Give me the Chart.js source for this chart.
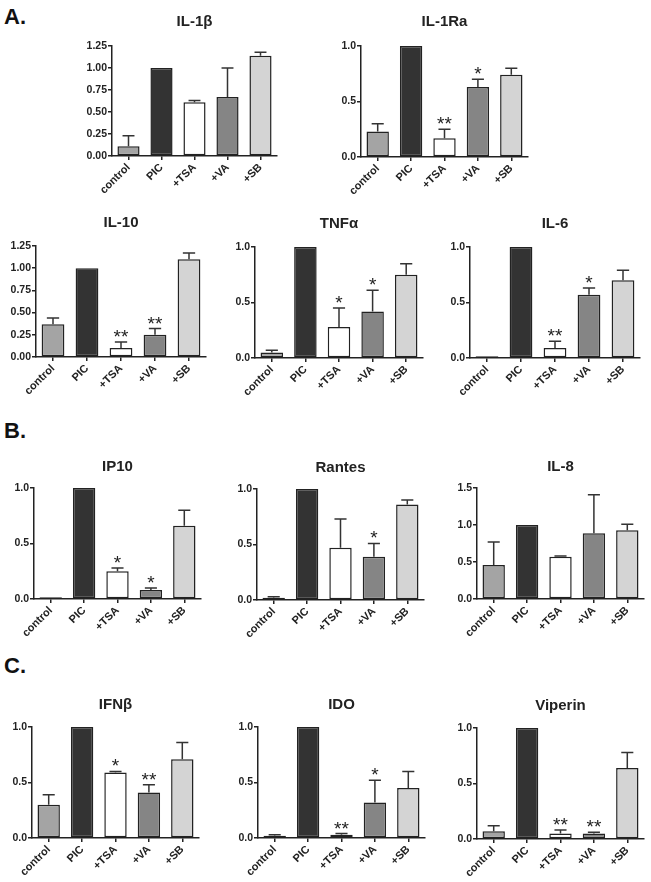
<!DOCTYPE html>
<html>
<head>
<meta charset="utf-8">
<script src="https://cdn.jsdelivr.net/npm/chart.js@4.4.0/dist/chart.umd.min.js"></script>
<style>
  body { margin: 0; background: #fff; width: 651px; height: 882px; position: relative; overflow: hidden; font-family: "Liberation Sans", Arial, sans-serif; }
  canvas { position: absolute; }
  .letter { position: absolute; font-weight: bold; font-size: 22px; color: #111; }
</style>
</head>
<body>
<div class="letter" style="left:4px;top:4px">A.</div>
<div class="letter" style="left:4px;top:418px">B.</div>
<div class="letter" style="left:4px;top:653px">C.</div>

<script>
// data (fold change vs PIC)
const categories = ["control", "PIC", "+TSA", "+VA", "+SB"];

const il1bMean = [0.11, 1.0, 0.61, 0.67, 1.14];
const il1bSem = [0.12, 0, 0.02, 0.33, 0.04];
const il1bStars = ["", "", "", "", ""];

const il1raMean = [0.23, 1.0, 0.17, 0.63, 0.74];
const il1raSem = [0.07, 0, 0.08, 0.07, 0.06];
const il1raStars = ["", "", "**", "*", ""];

const il10Mean = [0.37, 1.0, 0.10, 0.25, 1.10];
const il10Sem = [0.07, 0, 0.07, 0.07, 0.07];
const il10Stars = ["", "", "**", "**", ""];

const tnfMean = [0.05, 1.0, 0.28, 0.42, 0.75];
const tnfSem = [0.02, 0, 0.17, 0.19, 0.10];
const tnfStars = ["", "", "*", "*", ""];

const il6Mean = [0.015, 1.0, 0.09, 0.57, 0.70];
const il6Sem = [0, 0, 0.06, 0.06, 0.09];
const il6Stars = ["", "", "**", "*", ""];

const ip10Mean = [0.015, 1.0, 0.25, 0.08, 0.66];
const ip10Sem = [0, 0, 0.03, 0.02, 0.14];
const ip10Stars = ["", "", "*", "*", ""];

const rantesMean = [0.02, 1.0, 0.47, 0.39, 0.86];
const rantesSem = [0.01, 0, 0.26, 0.12, 0.04];
const rantesStars = ["", "", "", "*", ""];

const il8Mean = [0.46, 1.0, 0.57, 0.89, 0.93];
const il8Sem = [0.31, 0, 0.01, 0.52, 0.08];
const il8Stars = ["", "", "", "", ""];

const ifnbMean = [0.30, 1.0, 0.59, 0.41, 0.71];
const ifnbSem = [0.09, 0, 0.01, 0.07, 0.15];
const ifnbStars = ["", "", "*", "**", ""];

const idoMean = [0.02, 1.0, 0.03, 0.32, 0.45];
const idoSem = [0.01, 0, 0.01, 0.20, 0.15];
const idoStars = ["", "", "**", "*", ""];

const viperinMean = [0.07, 1.0, 0.05, 0.05, 0.64];
const viperinSem = [0.05, 0, 0.03, 0.01, 0.14];
const viperinStars = ["", "", "**", "**", ""];

// styling
const barColors = ["#a4a4a4", "#333333", "#ffffff", "#858585", "#d4d4d4"];
const ink = "#222";
const FONT = "'Liberation Sans', Arial, sans-serif";
const Y_AXIS_W = 32;
const X_AXIS_H = 50;
const PAD_TOP = 40;
const PAD_RIGHT = 6;

// layout: axisX = position of y axis, top = y of max tick, w/h = plot area, tOff = title offset above plot
const panels = [
  { title: "IL-1β", mean: il1bMean, sem: il1bSem, stars: il1bStars, max: 1.25, step: 0.25, dec: 2, axisX: 112, top: 46, w: 165, h: 110, tOff: 24 },
  { title: "IL-1Ra", mean: il1raMean, sem: il1raSem, stars: il1raStars, max: 1.0, step: 0.5, dec: 1, axisX: 361, top: 46, w: 167, h: 111, tOff: 24 },
  { title: "IL-10", mean: il10Mean, sem: il10Sem, stars: il10Stars, max: 1.25, step: 0.25, dec: 2, axisX: 36, top: 246, w: 170, h: 111, tOff: 23 },
  { title: "TNFα", mean: tnfMean, sem: tnfSem, stars: tnfStars, max: 1.0, step: 0.5, dec: 1, axisX: 255, top: 247, w: 168, h: 111, tOff: 23 },
  { title: "IL-6", mean: il6Mean, sem: il6Sem, stars: il6Stars, max: 1.0, step: 0.5, dec: 1, axisX: 470, top: 247, w: 170, h: 111, tOff: 23 },
  { title: "IP10", mean: ip10Mean, sem: ip10Sem, stars: ip10Stars, max: 1.0, step: 0.5, dec: 1, axisX: 34, top: 488, w: 167, h: 111, tOff: 21 },
  { title: "Rantes", mean: rantesMean, sem: rantesSem, stars: rantesStars, max: 1.0, step: 0.5, dec: 1, axisX: 257, top: 489, w: 167, h: 111, tOff: 21 },
  { title: "IL-8", mean: il8Mean, sem: il8Sem, stars: il8Stars, max: 1.5, step: 0.5, dec: 1, axisX: 477, top: 488, w: 167, h: 111, tOff: 21 },
  { title: "IFNβ", mean: ifnbMean, sem: ifnbSem, stars: ifnbStars, max: 1.0, step: 0.5, dec: 1, axisX: 32, top: 727, w: 167, h: 111, tOff: 22 },
  { title: "IDO", mean: idoMean, sem: idoSem, stars: idoStars, max: 1.0, step: 0.5, dec: 1, axisX: 258, top: 727, w: 167, h: 111, tOff: 22 },
  { title: "Viperin", mean: viperinMean, sem: viperinSem, stars: viperinStars, max: 1.0, step: 0.5, dec: 1, axisX: 477, top: 728, w: 167, h: 111, tOff: 22 },
];

// error bars (upper only), significance stars and panel title
const errorBarPlugin = {
  id: "errorBars",
  afterDatasetsDraw(chart, args, opts) {
    const ctx = chart.ctx;
    const area = chart.chartArea;
    const yScale = chart.scales.y;
    const ds = chart.data.datasets[0];
    const meta = chart.getDatasetMeta(0);
    ctx.save();
    ctx.strokeStyle = "#333";
    ctx.lineWidth = 1.5;
    ctx.fillStyle = ink;
    meta.data.forEach((bar, i) => {
      const topVal = ds.data[i] + ds.sem[i];
      const yTop = yScale.getPixelForValue(topVal);
      if (ds.sem[i] > 0) {
        const half = bar.width * 0.27;
        ctx.beginPath();
        ctx.moveTo(bar.x, bar.y);
        ctx.lineTo(bar.x, yTop);
        ctx.moveTo(bar.x - half, yTop);
        ctx.lineTo(bar.x + half, yTop);
        ctx.stroke();
      }
      if (ds.stars[i]) {
        ctx.font = "19px " + FONT;
        ctx.textAlign = "center";
        ctx.textBaseline = "alphabetic";
        ctx.fillText(ds.stars[i], bar.x, yTop + 1);
      }
    });
    ctx.font = "bold 15px " + FONT;
    ctx.textAlign = "center";
    ctx.textBaseline = "middle";
    ctx.fillText(opts.title, (area.left + area.right) / 2, area.top - opts.tOff);
    ctx.restore();
  }
};

function makePanel(p) {
  const canvas = document.createElement("canvas");
  const cw = Y_AXIS_W + p.w + PAD_RIGHT;
  const ch = PAD_TOP + p.h + X_AXIS_H;
  canvas.width = cw;
  canvas.height = ch;
  canvas.style.width = cw + "px";
  canvas.style.height = ch + "px";
  canvas.style.left = (p.axisX - Y_AXIS_W) + "px";
  canvas.style.top = (p.top - PAD_TOP) + "px";
  document.body.appendChild(canvas);

  new Chart(canvas.getContext("2d"), {
    type: "bar",
    data: {
      labels: categories,
      datasets: [{
        data: p.mean,
        sem: p.sem,
        stars: p.stars,
        backgroundColor: barColors,
        borderColor: ink,
        borderWidth: 1.5,
        borderSkipped: false,
        barPercentage: 0.67,
        categoryPercentage: 1.0,
      }],
    },
    options: {
      responsive: false,
      animation: false,
      devicePixelRatio: 1,
      layout: { padding: { top: PAD_TOP, right: PAD_RIGHT, left: 0, bottom: 0 } },
      plugins: {
        legend: { display: false },
        tooltip: { enabled: false },
        errorBars: { title: p.title, tOff: p.tOff },
      },
      scales: {
        x: {
          offset: true,
          grid: { display: true, drawOnChartArea: false, drawTicks: true, tickLength: 4, offset: false, color: ink, lineWidth: 1.5 },
          border: { display: true, color: ink, width: 1.5 },
          ticks: { autoSkip: false, maxRotation: 45, minRotation: 45, padding: 1, color: ink, font: { family: FONT, size: 11, weight: "bold" } },
          afterFit(scale) { scale.height = X_AXIS_H; },
        },
        y: {
          min: 0,
          max: p.max,
          grid: { display: true, drawOnChartArea: false, drawTicks: true, tickLength: 4, color: ink, lineWidth: 1.5 },
          border: { display: true, color: ink, width: 1.5 },
          ticks: {
            stepSize: p.step,
            padding: 1,
            color: ink,
            font: { family: FONT, size: 10.5, weight: "bold" },
            callback: (v) => Number(v).toFixed(p.dec),
          },
          afterFit(scale) { scale.width = Y_AXIS_W; },
        },
      },
    },
    plugins: [errorBarPlugin],
  });
}

panels.forEach(makePanel);
</script>
</body>
</html>
